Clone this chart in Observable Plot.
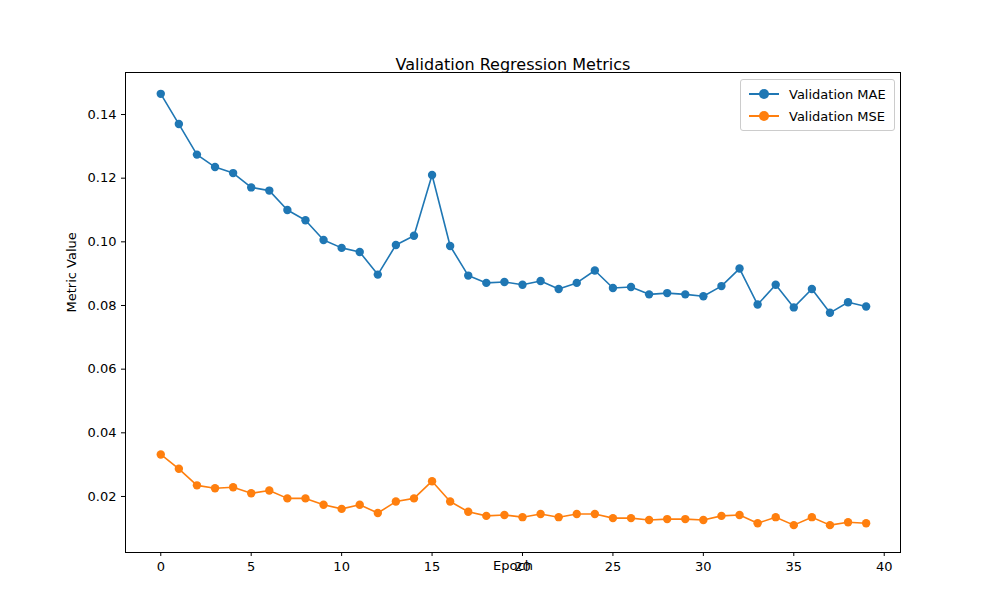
<!DOCTYPE html>
<html>
<head>
<meta charset="utf-8">
<script src="https://cdn.jsdelivr.net/npm/d3@7"></script>
<script src="https://cdn.jsdelivr.net/npm/@observablehq/plot@0.6"></script>
<style>
  body { margin: 0; background: #fff; font-family: "DejaVu Sans", sans-serif; }
  #wrap { position: relative; width: 1000px; height: 600px; }
  #legend { position: absolute; left: 740px; top: 79px; border: 1px solid #ccc; border-radius: 3px;
            background: #fff; padding: 3px 8px; font-size: 13px; }
  .row { display: flex; align-items: center; height: 22px; }
  .sw { position: relative; width: 30px; height: 12px; margin-right: 10px; }
  .sw .ln { position: absolute; left: 0; right: 0; top: 5px; height: 2px; }
  .sw .dt { position: absolute; left: 10px; top: 1px; width: 10px; height: 10px; border-radius: 50%; }
</style>
</head>
<body>
<div id="wrap">
  <div id="chart"></div>
  <div id="legend"></div>
</div>
<script>
const epochs = d3.range(40);
const mae = [0.1465,0.137,0.1274,0.1235,0.1216,0.1171,0.1161,0.110,0.1068,0.1006,
  0.0981,0.0968,0.0897,0.0990,0.1019,0.1210,0.0987,0.0894,0.0871,0.0874,
  0.0865,0.0877,0.0852,0.0871,0.0910,0.0855,0.0858,0.0835,0.0839,0.0835,
  0.0829,0.0861,0.0916,0.0803,0.0865,0.0794,0.0852,0.0777,0.0810,0.0797];
const mse = [0.0332,0.0287,0.0235,0.0226,0.0229,0.0210,0.0219,0.0194,0.0194,0.0174,
  0.0161,0.0174,0.0148,0.0184,0.0194,0.0248,0.0184,0.0152,0.0139,0.0142,
  0.0135,0.0145,0.0135,0.0145,0.0145,0.0132,0.0132,0.0126,0.0129,0.0129,
  0.0126,0.0139,0.0142,0.0116,0.0135,0.0110,0.0135,0.0110,0.0119,0.0116];
const seriesNames = ["Validation MAE", "Validation MSE"];
const colors = ["#1f77b4", "#ff7f0e"];

const rows = [];
epochs.forEach((e, i) => {
  rows.push({epoch: e, value: mae[i], series: seriesNames[0]});
  rows.push({epoch: e, value: mse[i], series: seriesNames[1]});
});

const chart = Plot.plot({
  width: 1000, height: 600,
  marginLeft: 125, marginRight: 100, marginTop: 72, marginBottom: 48,
  style: {fontFamily: "DejaVu Sans, sans-serif", fontSize: "13px", color: "#000"},
  x: {domain: [-1.95, 40.9], ticks: [0,5,10,15,20,25,30,35,40], tickFormat: d3.format("d"),
      label: null, tickSize: 4},
  y: {domain: [0.0024, 0.1532], ticks: [0.02,0.04,0.06,0.08,0.10,0.12,0.14], tickFormat: d3.format(".2f"),
      label: null, tickSize: 4},
  color: {domain: seriesNames, range: colors},
  marks: [
    Plot.frame({stroke: "#000"}),
    Plot.line(rows, {x: "epoch", y: "value", z: "series", stroke: "series", strokeWidth: 1.6}),
    Plot.dot(rows, {x: "epoch", y: "value", fill: "series", r: 4.2}),
    Plot.text(["Validation Regression Metrics"], {frameAnchor: "top", dy: -14, fontSize: 16, fill: "#000"}),
    Plot.text(["Epoch"], {frameAnchor: "bottom", dy: 17, fontSize: 13, fill: "#000"}),
    Plot.text(["Metric Value"], {frameAnchor: "left", dx: -54, rotate: -90, fontSize: 13, fill: "#000"})
  ]
});
document.getElementById("chart").append(chart);

const leg = d3.select("#legend");
seriesNames.forEach((s, i) => {
  const r = leg.append("div").attr("class", "row");
  const sw = r.append("div").attr("class", "sw");
  sw.append("div").attr("class", "ln").style("background", colors[i]);
  sw.append("div").attr("class", "dt").style("background", colors[i]);
  r.append("span").text(s);
});
</script>
</body>
</html>
